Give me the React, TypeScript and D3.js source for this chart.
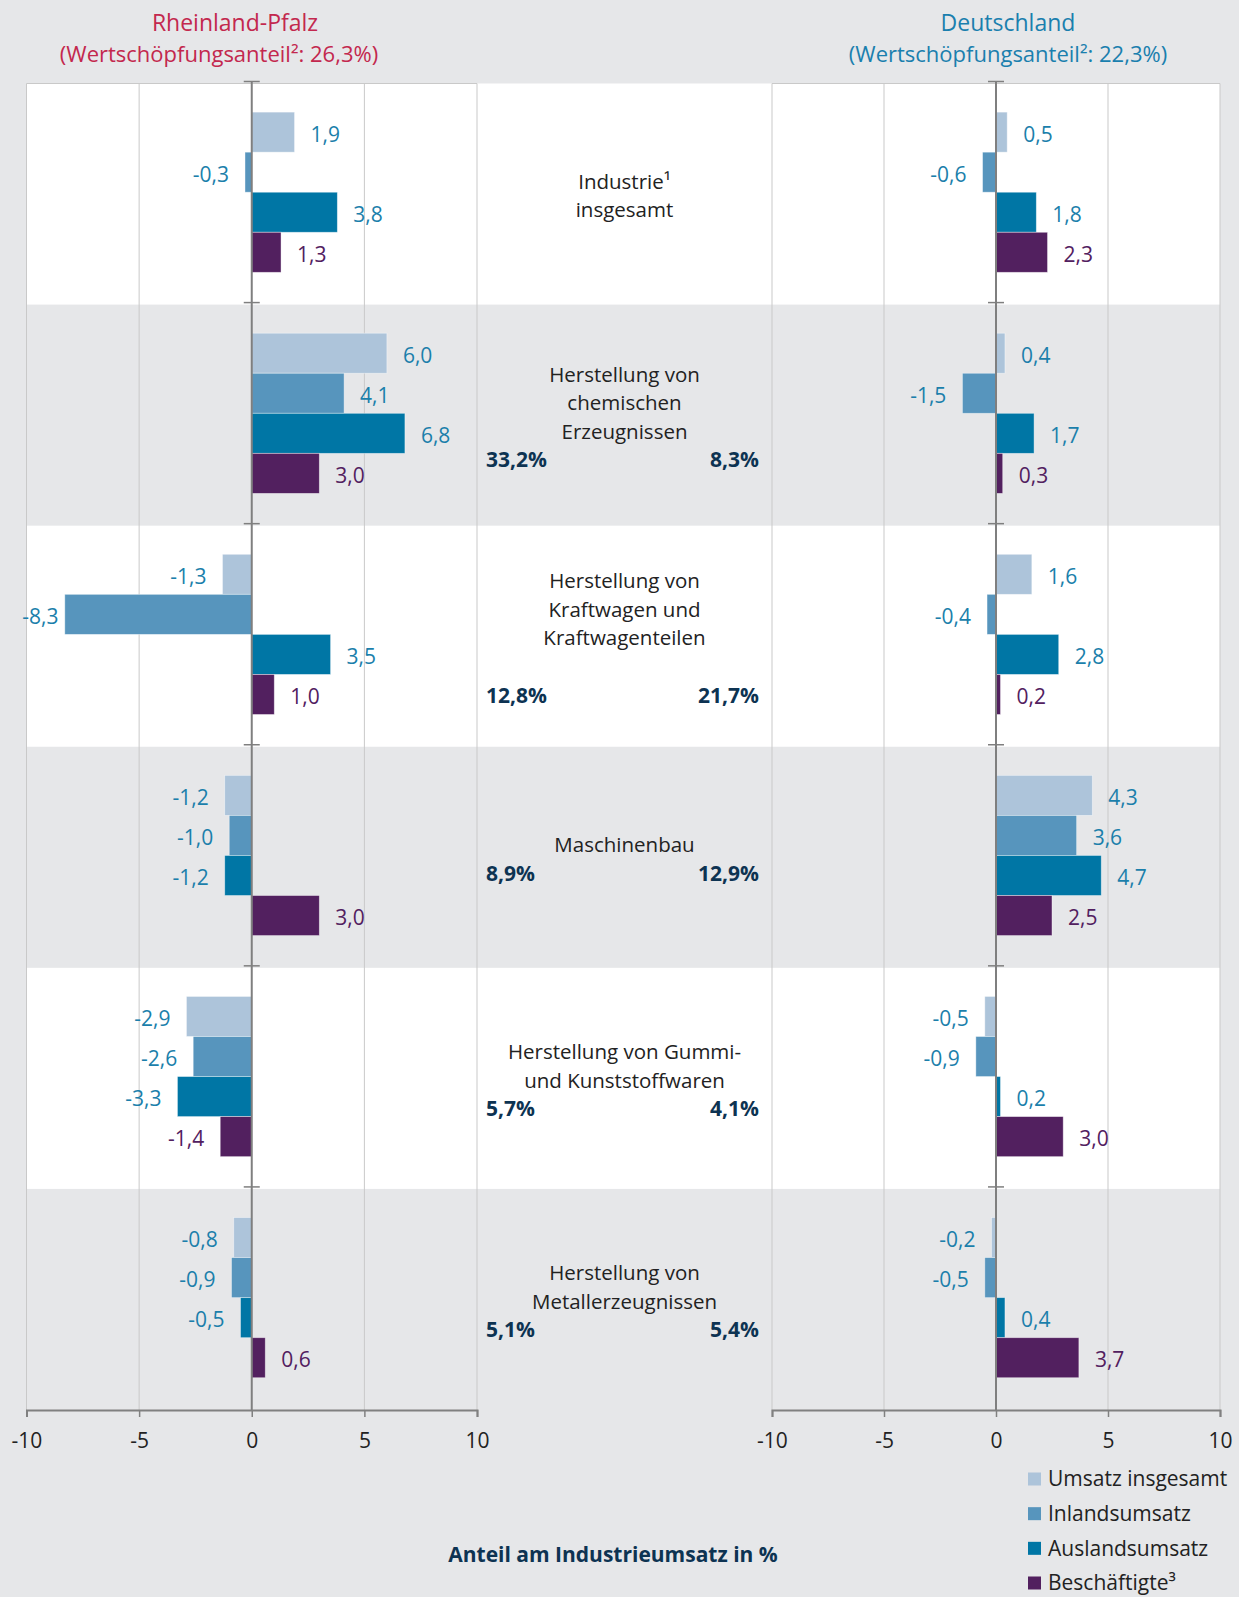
import React, { useEffect, useRef } from 'react';
import * as d3 from 'd3';

// values (% change), one entry per category row
const categoryLines = [
  ['Industrie¹', 'insgesamt'],
  ['Herstellung von', 'chemischen', 'Erzeugnissen'],
  ['Herstellung von', 'Kraftwagen und', 'Kraftwagenteilen', ''],
  ['Maschinenbau'],
  ['Herstellung von Gummi-', 'und Kunststoffwaren'],
  ['Herstellung von', 'Metallerzeugnissen'],
];
const seriesNames = ['Umsatz insgesamt', 'Inlandsumsatz', 'Auslandsumsatz', 'Beschäftigte³'];
const seriesColors = ['#adc4da', '#5795bd', '#0076a5', '#52205f'];
const labelColors = ['#1b7fab', '#1b7fab', '#1b7fab', '#52205f'];

const rlpUmsatz = [1.9, 6.0, -1.3, -1.2, -2.9, -0.8];
const rlpInland = [-0.3, 4.1, -8.3, -1.0, -2.6, -0.9];
const rlpAusland = [3.8, 6.8, 3.5, -1.2, -3.3, -0.5];
const rlpBeschaeftigte = [1.3, 3.0, 1.0, 3.0, -1.4, 0.6];

const deUmsatz = [0.5, 0.4, 1.6, 4.3, -0.5, -0.2];
const deInland = [-0.6, -1.5, -0.4, 3.6, -0.9, -0.5];
const deAusland = [1.8, 1.7, 2.8, 4.7, 0.2, 0.4];
const deBeschaeftigte = [2.3, 0.3, 0.2, 2.5, 3.0, 3.7];

const rlpShare = ['', '33,2%', '12,8%', '8,9%', '5,7%', '5,1%'];
const deShare = ['', '8,3%', '21,7%', '12,9%', '4,1%', '5,4%'];

const xTicks = [-10, -5, 0, 5, 10];

const FONT = '"Open Sans", "Noto Sans", sans-serif';

function App() {
  const ref = useRef(null);

  useEffect(() => {
    const W = 1239, H = 1597;
    const top = 83.5, bottom = 1410;
    const svg = d3.select(ref.current);
    svg.selectAll('*').remove();
    svg.attr('width', W).attr('height', H).style('font-family', FONT);

    svg.append('rect').attr('width', W).attr('height', H).attr('fill', '#e6e7e9');

    const rows = d3.scaleBand().domain(d3.range(categoryLines.length)).range([top, bottom]);
    const bars = d3.scaleBand().domain(d3.range(seriesNames.length))
      .range([0, rows.bandwidth()]).paddingInner(0).paddingOuter(0.76).align(0.47);

    const xLeft = d3.scaleLinear().domain([-10, 10]).range([26.5, 477]);
    const xRight = d3.scaleLinear().domain([-10, 10]).range([772, 1220]);

    // white bands on every other row
    svg.append('g').selectAll('rect')
      .data(d3.range(categoryLines.length).filter(i => i % 2 === 0))
      .join('rect')
      .attr('x', xLeft(-10)).attr('width', xRight(10) - xLeft(-10))
      .attr('y', i => rows(i)).attr('height', rows.bandwidth())
      .attr('fill', '#ffffff');

    const panels = [
      { x: xLeft, data: [rlpUmsatz, rlpInland, rlpAusland, rlpBeschaeftigte] },
      { x: xRight, data: [deUmsatz, deInland, deAusland, deBeschaeftigte] },
    ];

    panels.forEach(p => {
      const g = svg.append('g');
      // grid
      g.selectAll('line.grid').data(xTicks.filter(t => t !== 0)).join('line')
        .attr('class', 'grid')
        .attr('x1', d => p.x(d)).attr('x2', d => p.x(d))
        .attr('y1', top).attr('y2', bottom)
        .attr('stroke', '#c9c9c9').attr('stroke-width', 1);
      g.append('line')
        .attr('x1', p.x(-10)).attr('x2', p.x(10)).attr('y1', top).attr('y2', top)
        .attr('stroke', '#c9c9c9').attr('stroke-width', 1);

      // bars
      p.data.forEach((vals, s) => {
        g.append('g').selectAll('rect').data(vals).join('rect')
          .attr('x', v => Math.min(p.x(0), p.x(v)))
          .attr('width', v => Math.abs(p.x(v) - p.x(0)))
          .attr('y', (v, i) => rows(i) + bars(s))
          .attr('height', bars.bandwidth())
          .attr('fill', seriesColors[s])
          .attr('stroke', '#ffffff').attr('stroke-opacity', 0.5).attr('stroke-width', 0.8);

        g.append('g').selectAll('text').data(vals).join('text')
          .attr('x', v => v >= 0 ? p.x(v) + 16 : Math.max(p.x(v) - 16, p.x(-10) + 32))
          .attr('y', (v, i) => rows(i) + bars(s) + bars.bandwidth() / 2)
          .attr('dy', '0.45em')
          .attr('text-anchor', v => v >= 0 ? 'start' : 'end')
          .attr('font-size', 21)
          .attr('fill', labelColors[s])
          .text(v => v.toFixed(1).replace('.', ','));
      });

      // zero line with small ticks at row boundaries
      g.append('line')
        .attr('x1', p.x(0)).attr('x2', p.x(0)).attr('y1', top - 2).attr('y2', bottom)
        .attr('stroke', '#7f7f7f').attr('stroke-width', 2);
      g.selectAll('line.rowtick').data(d3.range(categoryLines.length)).join('line')
        .attr('class', 'rowtick')
        .attr('x1', p.x(0) - 8).attr('x2', p.x(0) + 8)
        .attr('y1', i => rows(i) - 2).attr('y2', i => rows(i) - 2)
        .attr('stroke', '#7f7f7f').attr('stroke-width', 1.5);

      // x axis
      const ax = g.append('g')
        .attr('transform', `translate(0, ${bottom})`)
        .call(d3.axisBottom(p.x).tickValues(xTicks).tickSize(7).tickSizeOuter(7)
          .tickPadding(16).tickFormat(d => String(d)));
      ax.select('.domain').attr('stroke', '#808080').attr('stroke-width', 2);
      ax.selectAll('.tick line').attr('stroke', '#808080').attr('stroke-width', 1.5);
      ax.selectAll('.tick text').attr('font-size', 21).attr('fill', '#222')
        .attr('font-family', FONT);
    });

    // category labels + shares in the middle column
    const midX = (xLeft(10) + xRight(-10)) / 2;
    const lh = 28.5;
    categoryLines.forEach((lines, i) => {
      const all = rlpShare[i] ? [...lines, '%'] : lines;
      const cy = rows(i) + rows.bandwidth() / 2;
      const y0 = cy - (all.length - 1) * lh / 2 + 2;
      lines.forEach((l, k) => {
        svg.append('text')
          .attr('x', midX).attr('y', y0 + k * lh).attr('dy', '0.35em')
          .attr('text-anchor', 'middle').attr('font-size', 20.5).attr('fill', '#222')
          .text(l);
      });
      if (rlpShare[i]) {
        const yp = y0 + lines.length * lh;
        svg.append('text')
          .attr('x', xLeft(10) + 9).attr('y', yp).attr('dy', '0.35em')
          .attr('font-size', 21).attr('font-weight', 700).attr('fill', '#0d3352')
          .text(rlpShare[i]);
        svg.append('text')
          .attr('x', xRight(-10) - 13).attr('y', yp).attr('dy', '0.35em')
          .attr('text-anchor', 'end')
          .attr('font-size', 21).attr('font-weight', 700).attr('fill', '#0d3352')
          .text(deShare[i]);
      }
    });

    // panel titles
    const titles = [
      { t1: 'Rheinland-Pfalz', t2: '(Wertschöpfungsanteil²: 26,3%)', x1: 235, x2: 219, color: '#c3284e' },
      { t1: 'Deutschland', t2: '(Wertschöpfungsanteil²: 22,3%)', x1: 1008, x2: 1008, color: '#1a7fae' },
    ];
    titles.forEach(t => {
      svg.append('text').attr('x', t.x1).attr('y', 31).attr('text-anchor', 'middle')
        .attr('font-size', 23).attr('fill', t.color).text(t.t1);
      svg.append('text').attr('x', t.x2).attr('y', 62).attr('text-anchor', 'middle')
        .attr('font-size', 22).attr('fill', t.color).text(t.t2);
    });

    // axis title
    svg.append('text').attr('x', 613).attr('y', 1555).attr('dy', '0.35em')
      .attr('text-anchor', 'middle').attr('font-size', 21).attr('font-weight', 700)
      .attr('fill', '#0d3352').text('Anteil am Industrieumsatz in %');

    // legend
    const legendY = d3.scalePoint().domain(d3.range(seriesNames.length)).range([1479, 1583]);
    const lg = svg.append('g');
    seriesNames.forEach((name, s) => {
      lg.append('rect').attr('x', 1028).attr('y', legendY(s) - 6.5)
        .attr('width', 13).attr('height', 13).attr('fill', seriesColors[s]);
      lg.append('text').attr('x', 1048).attr('y', legendY(s)).attr('dy', '0.35em')
        .attr('font-size', 21).attr('fill', '#222').text(name);
    });
  }, []);

  return (
    <div style={{ position: 'absolute', left: 0, top: 0 }}>
      <svg ref={ref} />
    </div>
  );
}

export default App;
